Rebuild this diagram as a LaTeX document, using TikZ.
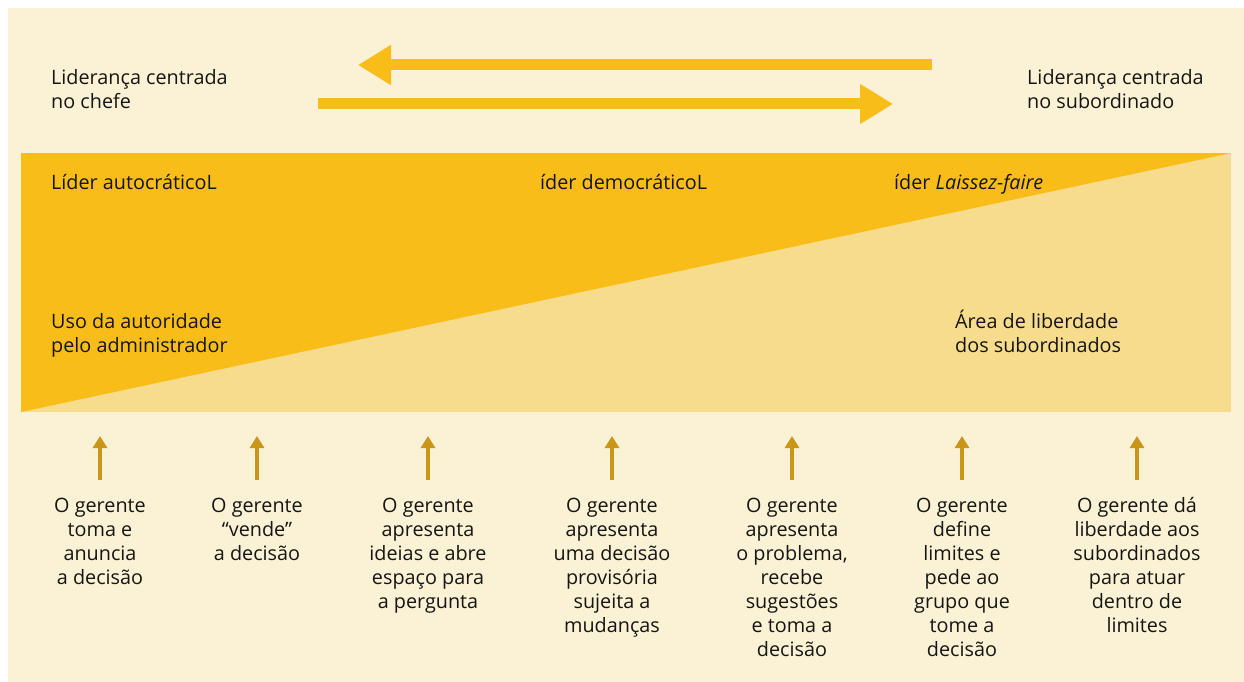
\documentclass[tikz,border=0pt]{standalone}
\usepackage{fontspec}
\setmainfont{Open Sans}
\usetikzlibrary{arrows.meta}
\definecolor{cream}{HTML}{FBF1D4}
\definecolor{gold}{HTML}{F9BD1A}
\definecolor{lightgold}{HTML}{F6DC8C}
\definecolor{darkgold}{HTML}{C9961A}
\definecolor{ink}{HTML}{151515}
\newcommand\ctxt[1]{\begin{tabular}[t]{@{}c@{}}#1\end{tabular}}
\newcommand\ltxt[1]{\begin{tabular}[t]{@{}l@{}}#1\end{tabular}}
\begin{document}
\begin{tikzpicture}[x=1pt,y=-1pt,
  lbl/.style={inner sep=0pt, text=ink, font=\fontsize{19.8}{24}\selectfont},
  bigarrow/.style={draw=gold, line width=11pt, -{Triangle[width=38pt,length=33pt]}},
  smallarrow/.style={draw=darkgold, line width=4pt, -{Triangle[width=14pt,length=12pt]}}]
\path[use as bounding box, fill=white] (0,0) rectangle (1244,682);
\fill[cream] (8,8) rectangle (1244,682);
% band
\fill[lightgold] (21,153) rectangle (1231,412);
\fill[gold] (21,153) -- (1231,153) -- (21,412) -- cycle;
% top arrows
\coordinate (la1) at (932,65);
\coordinate (la2) at (358,65);
\coordinate (ra1) at (318,104);
\coordinate (ra2) at (893,104);
\draw[bigarrow] (la1) -- (la2);
\draw[bigarrow] (ra1) -- (ra2);
% top labels
\node[lbl, anchor=base west] (chefe) at (51,85) {\ltxt{Liderança centrada\\no chefe}};
\node[lbl, anchor=base west] (sub) at (1027,85) {\ltxt{Liderança centrada\\no subordinado}};
% band labels
\node[lbl, anchor=base west] (auto) at (51,189) {Líder autocráticoL};
\node[lbl, anchor=base west] (demo) at (540,189) {íder democráticoL};
\node[lbl, anchor=base west] (laissez) at (894,189) {íder \textit{Laissez-faire}};
\node[lbl, anchor=base west] (uso) at (51,328) {\ltxt{Uso da autoridade\\pelo administrador}};
\node[lbl, anchor=base west] (area) at (955,328) {\ltxt{Área de liberdade\\dos subordinados}};
% bottom arrows and texts
\foreach \i/\x in {1/100,2/257,3/428,4/612,5/792,6/962,7/1137}{
  \coordinate (s\i) at (\x,480);
  \coordinate (t\i) at (\x,436);
  \draw[smallarrow] (s\i) -- (t\i);
}
\node[lbl, anchor=base] (g1) at (100,512) {\ctxt{O gerente\\toma e\\anuncia\\a decisão}};
\node[lbl, anchor=base] (g2) at (257,512) {\ctxt{O gerente\\“vende”\\a decisão}};
\node[lbl, anchor=base] (g3) at (428,512) {\ctxt{O gerente\\apresenta\\ideias e abre\\espaço para\\a pergunta}};
\node[lbl, anchor=base] (g4) at (612,512) {\ctxt{O gerente\\apresenta\\uma decisão\\provisória\\sujeita a\\mudanças}};
\node[lbl, anchor=base] (g5) at (792,512) {\ctxt{O gerente\\apresenta\\o problema,\\recebe\\sugestões\\e toma a\\decisão}};
\node[lbl, anchor=base] (g6) at (962,512) {\ctxt{O gerente\\define\\limites e\\pede ao\\grupo que\\tome a\\decisão}};
\node[lbl, anchor=base] (g7) at (1137,512) {\ctxt{O gerente dá\\liberdade aos\\subordinados\\para atuar\\dentro de\\limites}};
\end{tikzpicture}
\end{document}
